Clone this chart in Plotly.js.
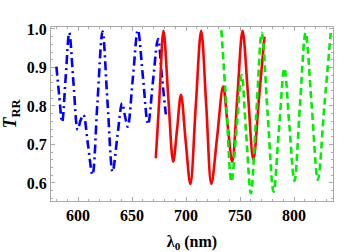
<!DOCTYPE html>
<html>
<head>
<meta charset="utf-8">
<script src="https://cdn.plot.ly/plotly-3.0.1.min.js"></script>
<style>html,body{margin:0;padding:0;background:#fff;}#chart{width:360px;height:252px;}</style>
</head>
<body>
<div id="chart"></div>
<script>
var blueX = [580, 582.5, 585.3, 588.6, 591.9, 595.8, 599.7, 602.3, 605, 609.2, 613.4, 618, 622.7, 627.3, 632, 636.4, 640.8, 643.4, 646, 650.7, 655.4, 660.1, 664.8, 669.4, 674.1, 677.7, 681.3];
var blueY = [0.902, 0.83, 0.758, 0.875, 0.99, 0.86, 0.738, 0.762, 0.777, 0.70, 0.621, 0.81, 0.993, 0.81, 0.629, 0.72, 0.807, 0.775, 0.746, 0.87, 0.997, 0.875, 0.752, 0.865, 0.974, 0.875, 0.778];

var redX = [672, 675.5, 679.1, 683.6, 688.1, 691.7, 695.3, 699.6, 704, 709, 714, 718.7, 723.4, 728.8, 734.3, 738.5, 742.7, 747.5, 752.3, 757.3, 762.3, 767.5, 772.6];
var redY = [0.664, 0.83, 0.995, 0.82, 0.655, 0.74, 0.829, 0.71, 0.597, 0.80, 0.995, 0.80, 0.597, 0.72, 0.85, 0.75, 0.655, 0.825, 0.995, 0.83, 0.66, 0.82, 0.98];

var greenX = [732.7, 737.3, 742, 746.7, 751.4, 755.7, 760, 765, 770.1, 775.5, 781, 786, 791, 795.6, 800.3, 805.4, 810.6, 816.3, 822, 828, 833.9];
var greenY = [0.997, 0.80, 0.603, 0.74, 0.88, 0.725, 0.573, 0.78, 0.99, 0.78, 0.577, 0.74, 0.898, 0.75, 0.605, 0.80, 0.99, 0.80, 0.608, 0.80, 0.99];

var xTicks = [600, 650, 700, 750, 800];
var yTicks = [0.6, 0.7, 0.8, 0.9, 1.0];

var traces = [
  {x: blueX, y: blueY, mode: 'lines', line: {color: '#0000ff', width: 2.6, dash: '9px,4px,2px,4px', shape: 'spline', smoothing: 1}},
  {x: redX, y: redY, mode: 'lines', line: {color: '#ff0000', width: 2.6, shape: 'spline', smoothing: 1}},
  {x: greenX, y: greenY, mode: 'lines', line: {color: '#00ee00', width: 2.6, dash: '7px,4px', shape: 'spline', smoothing: 1}}
];

var tickFont = {family: 'Liberation Serif, Times New Roman, serif', size: 16, color: '#000', weight: 'bold'};
var axisCommon = {
  showgrid: false, zeroline: false, showline: true, mirror: 'allticks',
  linecolor: '#aaaaaa', linewidth: 1,
  ticks: 'inside', ticklen: 4, tickcolor: '#aaaaaa', tickwidth: 1,
  tickfont: tickFont
};

var layout = {
  width: 360, height: 252,
  margin: {l: 51, r: 27, t: 27, b: 51},
  paper_bgcolor: '#fff', plot_bgcolor: '#fff',
  showlegend: false,
  xaxis: Object.assign({}, axisCommon, {
    range: [575, 836], tickvals: xTicks, ticktext: xTicks.map(String),
    minor: {dtick: 10, tick0: 0, ticks: 'inside', ticklen: 2, tickcolor: '#aaaaaa'},
    title: {text: 'λ<sub>0</sub> (nm)', font: {family: 'Liberation Serif, serif', size: 16, color: '#000', weight: 'bold'}, standoff: 12}
  }),
  yaxis: Object.assign({}, axisCommon, {
    range: [0.553, 1.005], tickvals: yTicks, ticktext: yTicks.map(function(v){return v.toFixed(1);}),
    minor: {dtick: 0.02, tick0: 0, ticks: 'inside', ticklen: 2, tickcolor: '#aaaaaa'},
    title: {text: '<i>T</i><sub>RR</sub>', font: {family: 'Liberation Serif, serif', size: 18, color: '#000', weight: 'bold'}, standoff: 6}
  })
};

Plotly.newPlot('chart', traces, layout, {staticPlot: true, displayModeBar: false});
</script>
</body>
</html>
